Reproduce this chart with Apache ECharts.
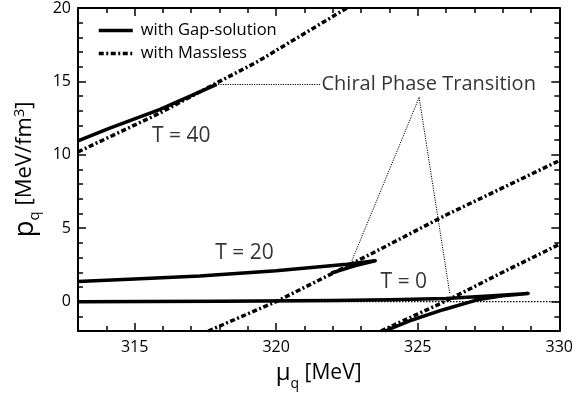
<!DOCTYPE html>
<html><head><meta charset="utf-8">
<script src="https://cdn.jsdelivr.net/npm/echarts@6/dist/echarts.min.js"></script>
<style>html,body{margin:0;padding:0;background:#fff}#c{width:576px;height:400px}</style>
</head><body><div id="c"></div>
<script>
// ---- data ----
const xLabels = [315, 320, 325, 330];
const xTicks  = [313,314,315,316,317,318,319,320,321,322,323,324,325,326,327,328,329,330];
const yLabels = [0, 5, 10, 15, 20];
const yTicks  = [-2,-1,0,1,2,3,4,5,6,7,8,9,10,11,12,13,14,15,16,17,18,19,20];

const gap40 = [[313,10.95],[314.1,11.8],[315.9,13.1],[317.9,14.8]];
const gap20 = [[313,1.37],[315,1.55],[317.3,1.74],[320,2.1],[322.5,2.55],[323.5,2.78],[322.8,2.45],[321.95,1.95]];
const gap0  = [[313,0.0],[318,0.02],[322,0.07],[324,0.12],[326,0.22],[327.5,0.38],[328.9,0.56],[328,0.4],[327.1,0.12],[325.9,-0.55],[324.8,-1.25],[323.85,-2]];

const massless40 = [[313,10.2],[315.9,12.85],[317.9,14.9],[319.3,16.3],[322.5,20]];
const massless20 = [[317.6,-2],[320,0],[323.3,3.2],[326,5.9],[330,9.6]];
const massless0  = [[323.7,-2],[325.95,0],[328,2.0],[330,3.9]];

const zeroLine = [[313,0],[330,0]];

const tLabels = [
  {name:'T = 40', value:[316.65,11.27]},
  {name:'T = 20', value:[318.88,3.33]},
  {name:'T = 0',  value:[324.51,1.35]}
];
const noteText = {name:'Chiral Phase Transition', value:[321.6,14.8]};
const arrows = [
  [[321.55,14.78],[317.95,14.78]],
  [[325.05,13.9],[322.66,2.72]],
  [[325.05,13.9],[326.13,0.58]]
];

// ---- chart ----
const X_MIN = 313, X_MAX = 330, Y_MIN = -2, Y_MAX = 20;
const GRID = {left:78, right:14, top:8, bottom:69};
const PLOT_W = 576 - GRID.left - GRID.right;   // px
const PLOT_H = 400 - GRID.top - GRID.bottom;   // px
const PX_X = (X_MAX - X_MIN) / PLOT_W;         // data units per px along x
const PX_Y = (Y_MAX - Y_MIN) / PLOT_H;         // data units per px along y
const MAJOR = 8, MINOR = 5;                    // tick lengths in px

const FONT = 'Open Sans';
const chart = echarts.init(document.getElementById('c'));
const dashDot = [5,2.5,2,2.5];
function frame(){ return {show:true, onZero:false, lineStyle:{color:'#000', width:2}}; }

const xs = [
  {type:'value', position:'bottom', min:X_MIN, max:X_MAX, axisLine:frame(), axisTick:{show:false},
   axisLabel:{customValues:xLabels, color:'#000', fontSize:16, fontFamily:FONT, margin:8},
   splitLine:{show:false},
   name:'{m|μ}{s|q}{t| [MeV]}', nameLocation:'middle', nameGap:28,
   nameTextStyle:{fontFamily:FONT, color:'#000', rich:{
     m:{fontSize:24, fontFamily:FONT, color:'#000', lineHeight:28, verticalAlign:'middle'},
     s:{fontSize:14, fontFamily:FONT, color:'#000', lineHeight:28, verticalAlign:'bottom', padding:[0,0,-4,0]},
     t:{fontSize:21, fontFamily:FONT, color:'#000', lineHeight:28, verticalAlign:'middle'}
   }}},
  {type:'value', position:'top', min:X_MIN, max:X_MAX, axisLine:frame(), axisTick:{show:false},
   axisLabel:{show:false}, splitLine:{show:false}}
];
const ys = [
  {type:'value', position:'left', min:Y_MIN, max:Y_MAX, axisLine:frame(), axisTick:{show:false},
   axisLabel:{customValues:yLabels, color:'#000', fontSize:16, fontFamily:FONT, margin:7},
   splitLine:{show:false},
   name:'{p|p}{s|q}{t| [MeV/fm}{u|3}{t|]}', nameLocation:'middle', nameRotate:90, nameGap:14,
   nameTextStyle:{fontFamily:FONT, color:'#000', rich:{
     p:{fontSize:28, fontFamily:FONT, color:'#000', lineHeight:26, verticalAlign:'middle'},
     s:{fontSize:15, fontFamily:FONT, color:'#000', lineHeight:26, verticalAlign:'bottom', padding:[0,0,-4,0]},
     u:{fontSize:15, fontFamily:FONT, color:'#000', lineHeight:26, verticalAlign:'top'},
     t:{fontSize:22, fontFamily:FONT, color:'#000', lineHeight:26, verticalAlign:'middle'}
   }}},
  {type:'value', position:'right', min:Y_MIN, max:Y_MAX, axisLine:frame(), axisTick:{show:false},
   axisLabel:{show:false}, splitLine:{show:false}}
];

// inward ticks on all four sides, drawn as mark lines through the axis scales
const tickLines = [];
xTicks.forEach(v => {
  const d = ((v % 5 === 0) ? MAJOR : MINOR) * PX_Y;
  tickLines.push([{coord:[v, Y_MIN]}, {coord:[v, Y_MIN + d]}]);
  tickLines.push([{coord:[v, Y_MAX]}, {coord:[v, Y_MAX - d]}]);
});
yTicks.forEach(v => {
  const d = ((v % 5 === 0) ? MAJOR : MINOR) * PX_X;
  tickLines.push([{coord:[X_MIN, v]}, {coord:[X_MIN + d, v]}]);
  tickLines.push([{coord:[X_MAX, v]}, {coord:[X_MAX - d, v]}]);
});

function solid(data){
  return {type:'line', name:'with Gap-solution', data:data, showSymbol:false, symbol:'none', z:4,
    itemStyle:{color:'#000'},
    lineStyle:{color:'#000', width:3.5, cap:'butt', join:'round'}, silent:true};
}
function dd(data){
  return {type:'line', name:'with Massless', data:data, showSymbol:false, symbol:'none', z:3,
    itemStyle:{color:'#000'},
    lineStyle:{color:'#000', width:3.5, type:dashDot, cap:'butt'}, silent:true};
}

const option = {
  animation:false,
  grid:GRID,
  xAxis:xs, yAxis:ys,
  legend:{
    data:['with Gap-solution','with Massless'],
    orient:'vertical', left:97, top:22, padding:0, itemWidth:34, itemHeight:14, itemGap:6,
    itemStyle:{opacity:0},
    lineStyle:{width:3.5},
    textStyle:{fontFamily:FONT, fontSize:16.5, color:'#000', padding:[0,0,0,3]},
    selectedMode:false
  },
  series:[
    {type:'line', name:'zero', data:zeroLine, symbol:'none', z:2, silent:true,
      lineStyle:{color:'#000', width:1.2, type:[1.5,1.5]},
      markLine:{silent:true, symbol:['none','none'], animation:false, precision:6,
        label:{show:false}, emphasis:{disabled:true},
        lineStyle:{color:'#000', width:1.5, type:'solid'},
        data:tickLines}},
    dd(massless40), dd(massless20), dd(massless0),
    solid(gap40), solid(gap20), solid(gap0),
    {type:'scatter', name:'labels', data:tLabels, symbolSize:0, z:6, silent:true,
      label:{show:true, position:'inside', formatter:'{b}', color:'#000', fontSize:21, fontFamily:FONT}},
    {type:'scatter', name:'note', data:[noteText], symbolSize:0, z:6, silent:true,
      label:{show:true, position:'right', distance:0, formatter:'{b}', color:'#000', fontSize:20, fontFamily:FONT},
      markLine:{silent:true, symbol:['none','arrow'], symbolSize:[0,7], animation:false,
        label:{show:false},
        lineStyle:{color:'#000', width:1, type:[1.2,1.2]},
        data: arrows.map(a => [{coord:a[0]},{coord:a[1]}])}
    }
  ]
};
chart.setOption(option);
</script></body></html>
